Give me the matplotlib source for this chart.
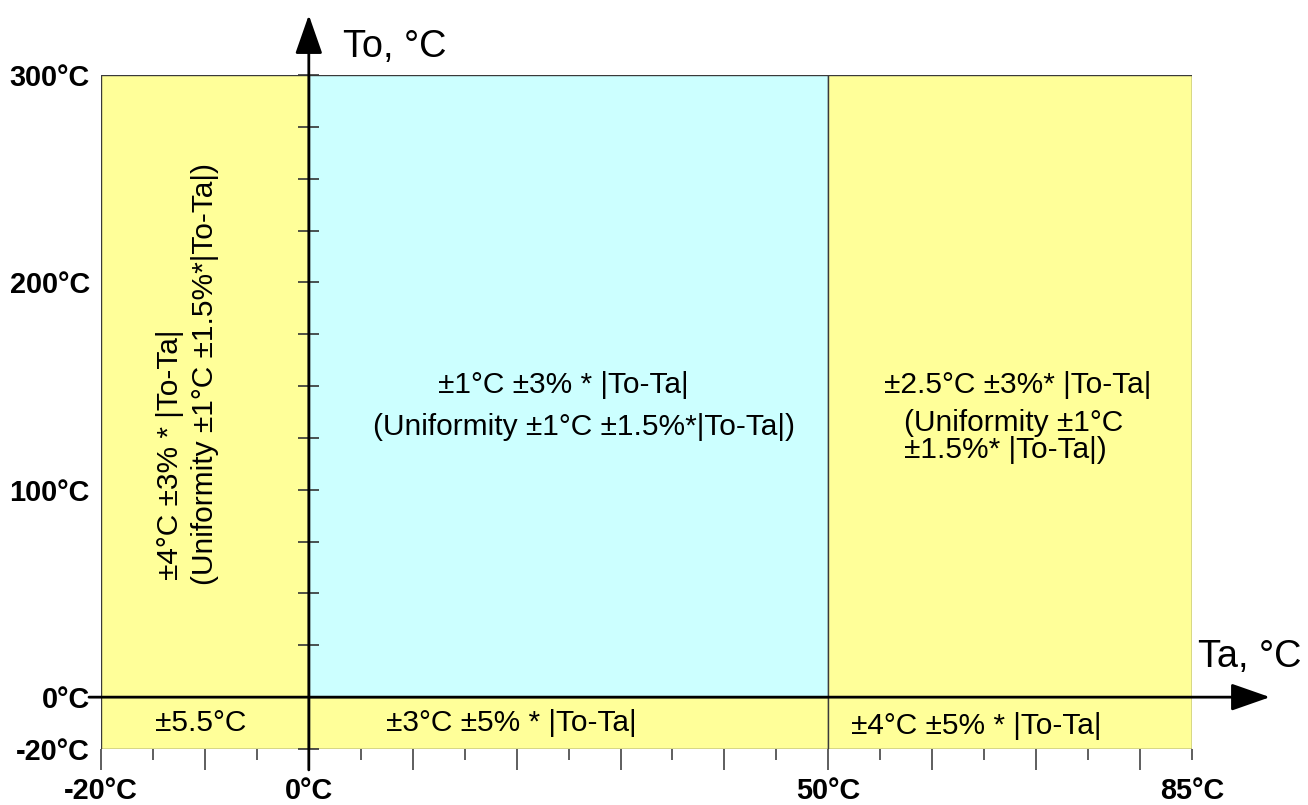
import matplotlib.pyplot as plt
import numpy as np
from matplotlib.patches import Rectangle

plt.rcParams["font.family"] = ["Liberation Sans", "DejaVu Sans"]

# zones of the accuracy map: Ta range, To range, fill
zone_ta_lo = [-20, 0, 0, 50]
zone_ta_hi = [0, 50, 50, 85]
zone_to_lo = [-20, 0, -20, -20]
zone_to_hi = [300, 300, 0, 300]
zone_fill = ["#FFFF99", "#CCFFFF", "#FFFF99", "#FFFF99"]

# axis ticks
x_major = [-20, -10, 0, 10, 20, 30, 40, 50, 60, 70, 80]
x_major_labels = ["-20°C", "", "0°C", "", "", "", "", "50°C", "", "", ""]
x_minor = [-15, -5, 5, 15, 25, 35, 45, 55, 65, 75, 85]
x_minor_labels = ["", "", "", "", "", "", "", "", "", "", "85°C"]
y_labelled = [-20, 0, 100, 200, 300]
y_labels = ["-20°C", "0°C", "100°C", "200°C", "300°C"]
y_axis_ticks = [-20, 25, 50, 75, 100, 125, 150, 175, 200, 225, 250, 275, 300]

# region captions
mid_lines = ["±1°C ±3% * |To-Ta|", "(Uniformity ±1°C ±1.5%*|To-Ta|)"]
right_lines = ["±2.5°C ±3%* |To-Ta|", "(Uniformity ±1°C", "±1.5%* |To-Ta|)"]
left_lines = ["±4°C ±3% * |To-Ta|", "(Uniformity ±1°C ±1.5%*|To-Ta|)"]
bottom_lines = ["±5.5°C", "±3°C ±5% * |To-Ta|", "±4°C ±5% * |To-Ta|"]


def fwd(y):
    y = np.asarray(y, dtype=float)
    return np.where(y < 0, y * 1.25, y)


def inv(y):
    y = np.asarray(y, dtype=float)
    return np.where(y < 0, y / 1.25, y)


fig = plt.figure(figsize=(13.08, 8.05), dpi=100)
ax = fig.add_axes([101 / 1308, 56 / 805, 1091 / 1308, 674 / 805])
ax.set_yscale("function", functions=(fwd, inv))
ax.set_xlim(-20, 85)
ax.set_ylim(-20, 300)
for s in ax.spines.values():
    s.set_visible(False)

for x0, x1, y0, y1, c in zip(zone_ta_lo, zone_ta_hi, zone_to_lo, zone_to_hi, zone_fill):
    ax.add_patch(Rectangle((x0, y0), x1 - x0, y1 - y0, facecolor=c,
                           edgecolor="#3a3a3a", linewidth=1.0, zorder=1))

# ticks along the To axis
ax.hlines(y_axis_ticks, -1, 1, color="#333333", linewidth=1.2, zorder=2, clip_on=False)

# x ticks under the box
tick_font = 20.8
ax.set_xticks(x_major, x_major_labels)
ax.set_xticks(x_minor, x_minor_labels, minor=True)
ax.tick_params(axis="x", which="major", length=15, width=1.1, color="#333333",
               pad=5, labelsize=tick_font)
ax.tick_params(axis="x", which="minor", length=8, width=1.1, color="#333333",
               pad=12, labelsize=tick_font)
for lab in ax.get_xticklabels(which="both"):
    lab.set_fontweight("bold")

ax.set_yticks(y_labelled, y_labels)
ax.tick_params(axis="y", which="both", length=0, pad=8, labelsize=tick_font)
for lab in ax.get_yticklabels():
    lab.set_fontweight("bold")

# axes arrows
arrow = dict(arrowstyle="-|>,head_length=1.2,head_width=0.42", mutation_scale=20,
             color="black", lw=2.0, shrinkA=0, shrinkB=0)
ax.annotate("", xy=(0, 1.089), xytext=(0, -0.031),
            xycoords=("data", "axes fraction"), arrowprops=arrow, zorder=3)
ax.annotate("", xy=(1.0715, 0), xytext=(-0.011, 0),
            xycoords=("axes fraction", "data"), arrowprops=arrow, zorder=3)

ax.text(3.3, 1.0415, "To, °C", transform=ax.get_xaxis_transform(),
        fontsize=27.3, ha="left", va="center")
ax.text(85.6, 19.3, "Ta, °C", fontsize=27.3, ha="left", va="center", clip_on=False)

fs = 21.5
ax.text(24.5, 150.5, mid_lines[0], fontsize=fs, ha="center", va="center")
ax.text(26.5, 130.2, mid_lines[1], fontsize=fs, ha="center", va="center")

ax.text(68.2, 150.5, right_lines[0], fontsize=fs, ha="center", va="center")
ax.text(57.3, 132.2, right_lines[1], fontsize=fs, ha="left", va="center")
ax.text(57.3, 119.1, right_lines[2], fontsize=fs, ha="left", va="center")

ax.text(-13.4, 56.4, left_lines[0], fontsize=fs, rotation=90,
        rotation_mode="anchor", ha="left", va="center")
ax.text(-10.0, 54.0, left_lines[1], fontsize=fs, rotation=90,
        rotation_mode="anchor", ha="left", va="center")

ax.text(-10.4, -10, bottom_lines[0], fontsize=fs, ha="center", va="center")
ax.text(19.5, -10, bottom_lines[1], fontsize=fs, ha="center", va="center")
ax.text(64.2, -11, bottom_lines[2], fontsize=fs, ha="center", va="center")

fig.savefig("out.png", dpi=100)
